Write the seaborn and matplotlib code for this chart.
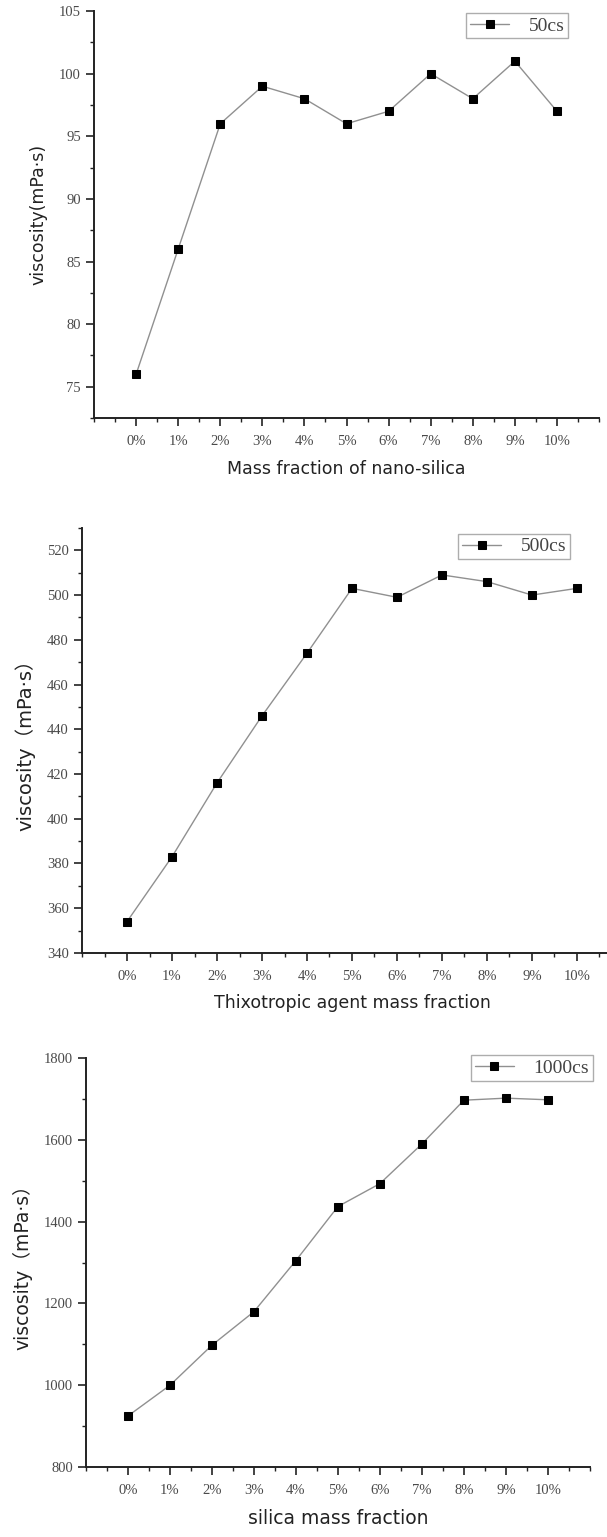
import matplotlib
matplotlib.use("Agg")
import matplotlib.pyplot as plt
from matplotlib.ticker import MultipleLocator, FixedLocator
import seaborn as sns
import numpy as np

# Silica mass fraction (%) and measured viscosity for three base oils
fractions = [0, 1, 2, 3, 4, 5, 6, 7, 8, 9, 10]
tick_labels = ["0%", "1%", "2%", "3%", "4%", "5%", "6%", "7%", "8%", "9%", "10%"]
visc_50cs = [76, 86, 96, 99, 98, 96, 97, 100, 98, 101, 97]
visc_500cs = [354, 383, 416, 446, 474, 503, 499, 509, 506, 500, 503]
visc_1000cs = [925, 1000, 1098, 1180, 1305, 1437, 1493, 1590, 1697, 1702, 1698]

sns.set_theme(style="ticks")
plt.rcParams["font.family"] = ["DejaVu Sans", "Noto Sans CJK SC"]

fig = plt.figure(figsize=(6.07, 15.37), dpi=100)

serif = "Liberation Serif"
tick_col = "#4a4a4a"

panels = [
    dict(rect=[0.1549, 0.7280, 0.832, 0.2648], y=visc_50cs, label="50cs",
         ylim=(72.5, 105), major=5, minor=2.5,
         ylabel="viscosity(mPa·s)", xlabel="Mass fraction of nano-silica",
         ysize=12.5, xsize=12.5, leg=(0.939, 0.995)),
    dict(rect=[0.1351, 0.3800, 0.8896, 0.2765], y=visc_500cs, label="500cs",
         ylim=(340, 530), major=20, minor=10,
         ylabel="viscosity（mPa·s）", xlabel="Thixotropic agent mass fraction",
         ysize=14, xsize=12.5, leg=(0.904, 0.986)),
    dict(rect=[0.1417, 0.0455, 0.830, 0.2661], y=visc_1000cs, label="1000cs",
         ylim=(800, 1800), major=200, minor=100,
         ylabel="viscosity（mPa·s）", xlabel="silica mass fraction",
         ysize=13.5, xsize=13.5, leg=(1.006, 1.007)),
]

for p in panels:
    ax = fig.add_axes(p["rect"])
    sns.lineplot(x=fractions, y=p["y"], ax=ax, color="#909090", linewidth=1.0,
                 marker="s", markersize=6.3, markerfacecolor="black",
                 markeredgecolor="black", label=p["label"])
    ax.set_xlim(-1, 11)
    ax.set_ylim(*p["ylim"])
    ax.xaxis.set_major_locator(FixedLocator(fractions))
    ax.set_xticklabels(tick_labels)
    ax.xaxis.set_minor_locator(FixedLocator(np.arange(-1, 11.01, 0.5)))
    ax.yaxis.set_major_locator(MultipleLocator(p["major"]))
    ax.yaxis.set_minor_locator(MultipleLocator(p["minor"]))
    ax.tick_params(axis="both", which="major", direction="out", length=5.5,
                   width=1.2, color="#222222", labelsize=10.5, labelcolor=tick_col,
                   pad=4)
    ax.tick_params(axis="both", which="minor", direction="out", length=3,
                   width=1.0, color="#222222")
    ax.tick_params(axis="x", which="major", pad=7)
    for lab in ax.get_xticklabels() + ax.get_yticklabels():
        lab.set_fontfamily(serif)
    for s in ("top", "right"):
        ax.spines[s].set_visible(False)
    for s in ("left", "bottom"):
        ax.spines[s].set_linewidth(1.4)
        ax.spines[s].set_color("#222222")
    ax.set_ylabel(p["ylabel"], fontsize=p["ysize"], color="#222222", labelpad=8)
    ax.set_xlabel(p["xlabel"], fontsize=p["xsize"], color="#222222", labelpad=8)
    leg = ax.legend(loc="upper right", bbox_to_anchor=p["leg"], frameon=True,
                    fancybox=False, edgecolor="#999999", handlelength=2.0,
                    handletextpad=1.0, markerscale=0.85, borderaxespad=0,
                    prop={"family": serif, "size": 14}, borderpad=0.2,
                    labelcolor="#444444")
    leg.get_frame().set_linewidth(1.0)

fig.savefig("out.png", dpi=100, facecolor="white")
